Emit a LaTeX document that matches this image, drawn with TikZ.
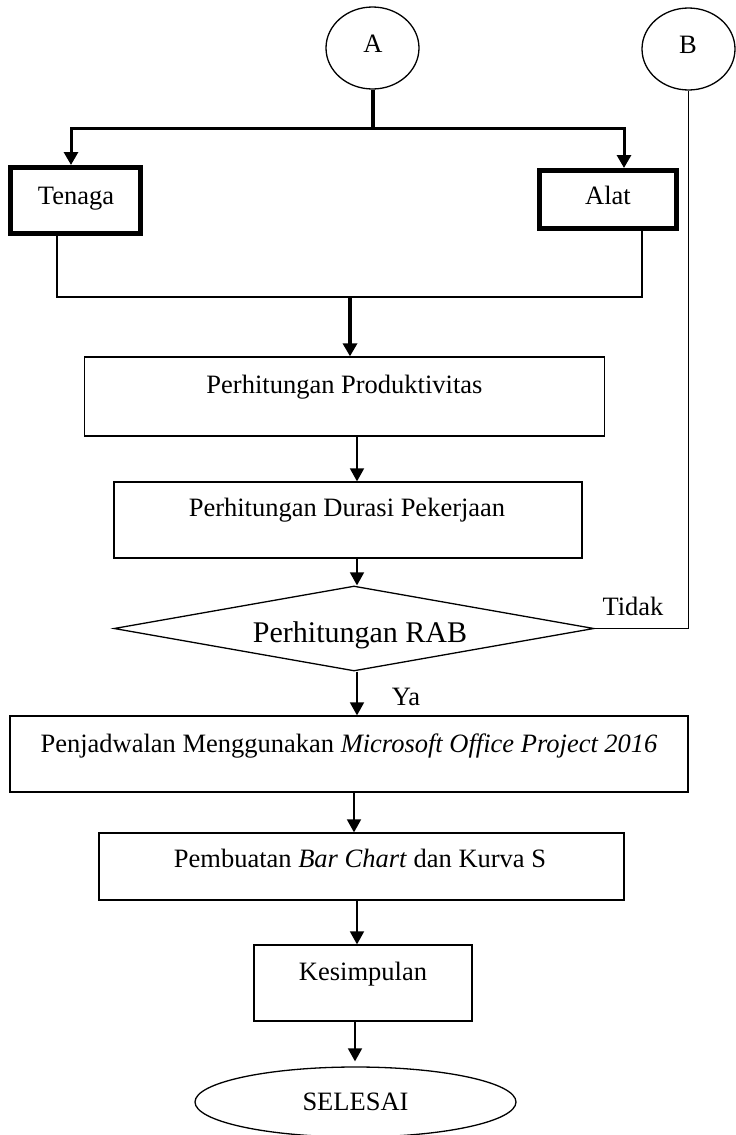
\documentclass[tikz,border=0pt]{standalone}
\usepackage{fontspec}
\setmainfont{Liberation Serif}
\usetikzlibrary{arrows.meta,shapes.geometric}
\begin{document}
\begin{tikzpicture}[x=1pt,y=-1pt,
  every node/.style={font=\fontsize{26.5}{30}\selectfont, inner sep=0pt},
  lbl/.style={anchor=base},
  box/.style={draw, line width=1.3pt, rectangle},
  heavybox/.style={draw, line width=5pt, rectangle},
  conn/.style={draw, line width=1.3pt, ellipse},
  thin/.style={line width=1.3pt},
  tip/.style={-{Triangle[width=14pt,length=13pt]}},
  arr/.style={line width=1.8pt, tip}
]
\useasboundingbox (0,0) rectangle (736,1135);

% connectors A and B
\node[conn, minimum width=93pt, minimum height=82pt] (a) at (372.5,48) {};
\node[lbl] (atx) at (373,52) {A};
\node[conn, minimum width=93pt, minimum height=82pt] (b) at (688.5,49) {};
\node[lbl] (btx) at (688,53) {B};

% Tenaga / Alat
\node[heavybox, minimum width=130pt, minimum height=66pt] (t) at (75.5,200.5) {};
\node[lbl] (ttx) at (76,204) {Tenaga};
\node[heavybox, minimum width=137pt, minimum height=58pt] (al) at (608,199.5) {};
\node[lbl] (altx) at (608,204) {Alat};

% process boxes
\node[box, minimum width=520pt, minimum height=79pt] (p1) at (344.75,396.5) {};
\node[lbl] (p1tx) at (344.5,393) {Perhitungan Produktivitas};
\node[box, minimum width=468pt, minimum height=76pt] (p2) at (348,520) {};
\node[lbl] (p2tx) at (347,516) {Perhitungan Durasi Pekerjaan};
\node[draw, diamond, line width=1.3pt, minimum width=480pt, minimum height=85pt] (d) at (354,628.5) {};
\node[lbl, font=\fontsize{30}{34}\selectfont] (dtx) at (360,642) {Perhitungan RAB};
\node[lbl] (tidak) at (633,615) {Tidak};
\node[lbl] (ya) at (406,705) {Ya};
\node[box, minimum width=678pt, minimum height=76pt] (p3) at (349,754) {};
\node[lbl] (p3tx) at (349,752) {Penjadwalan Menggunakan \textit{Microsoft Office Project 2016}};
\node[box, minimum width=525pt, minimum height=67pt] (p4) at (361.5,866.5) {};
\node[lbl] (p4tx) at (360,867) {Pembuatan \textit{Bar Chart} dan Kurva S};
\node[box, minimum width=218pt, minimum height=76pt] (p5) at (363,983) {};
\node[lbl] (p5tx) at (363,980) {Kesimpulan};
\node[conn, minimum width=321pt, minimum height=70pt] (end) at (355.5,1102) {};
\node[lbl] (endtx) at (355.5,1110) {SELESAI};

% helper coordinates
\coordinate (aj) at (372.5,128);
\coordinate (mj) at (350,297);
\coordinate (c357) at (357,0);
\coordinate (c354) at (354,0);
\coordinate (c355) at (355,0);

% edges
\draw[line width=4pt] (a.south) -- (aj);
\draw[line width=3pt, tip] (aj) -| ([xshift=-4.5pt]t.north);
\draw[line width=3pt, tip] (aj) -| ([xshift=16pt]al.north);
\draw[thin] ([xshift=-18.5pt]t.south) |- (mj) -| ([xshift=34pt]al.south);
\draw[line width=4pt, tip] (mj) -- (p1.north -| mj);
\draw[arr] (p1.south -| c357) -- (p2.north -| c357);
\draw[arr] (p2.south -| c357) -- (d.north -| c357);
\draw[thin] (d.east) -| (b.south);
\draw[arr] (d.south -| c357) -- (p3.north -| c357);
\draw[arr] (p3.south -| c354) -- (p4.north -| c354);
\draw[arr] (p4.south -| c357) -- (p5.north -| c357);
\draw[arr] (p5.south -| c355) -- ([yshift=5pt]end.north -| c355);
\end{tikzpicture}
\end{document}
